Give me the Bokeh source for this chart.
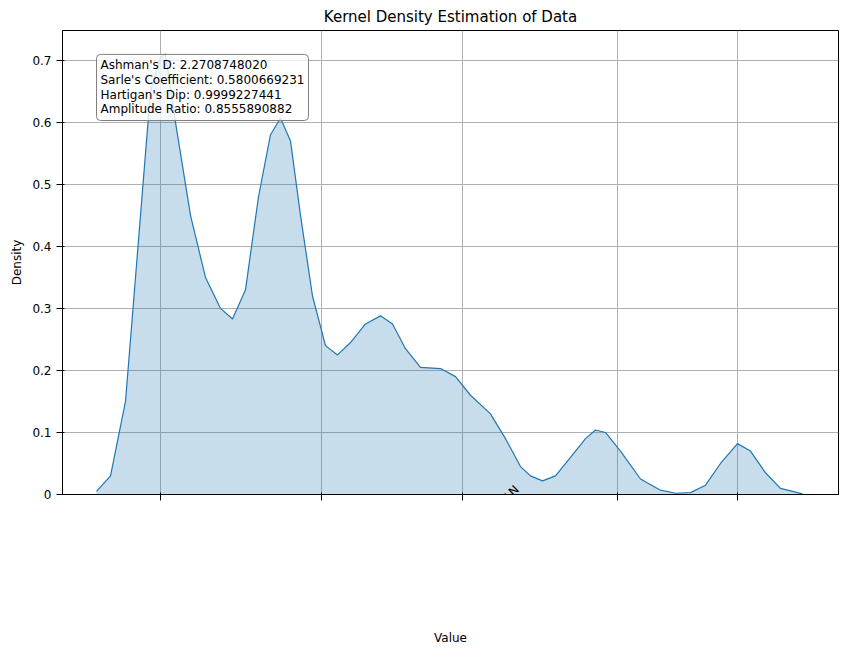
from bokeh.plotting import figure
from bokeh.models import Label, Range1d, FixedTicker
from bokeh.embed import file_html
from bokeh.resources import INLINE

# curve (x in arbitrary units, density)
xs = [0.34, 0.48, 0.63, 0.78, 0.88, 0.98, 1.03, 1.13, 1.28, 1.43, 1.58, 1.70, 1.83, 1.96, 2.08,
      2.18, 2.28, 2.38, 2.50, 2.63, 2.75, 2.88, 3.03, 3.18, 3.30, 3.43, 3.58, 3.78, 3.93, 4.08,
      4.28, 4.43, 4.58, 4.68, 4.80, 4.93, 5.08, 5.23, 5.33, 5.43, 5.58, 5.78, 5.98, 6.13, 6.28,
      6.43, 6.58, 6.75, 6.88, 7.03, 7.18, 7.40]
ys = [0.005, 0.03, 0.15, 0.45, 0.65, 0.705, 0.71, 0.6, 0.45, 0.35, 0.30, 0.283, 0.33, 0.48, 0.58,
      0.607, 0.57, 0.45, 0.32, 0.24, 0.225, 0.245, 0.275, 0.288, 0.275, 0.235, 0.205, 0.203, 0.19, 0.16,
      0.13, 0.09, 0.045, 0.03, 0.022, 0.03, 0.06, 0.09, 0.104, 0.1, 0.07, 0.025, 0.007, 0.002, 0.003,
      0.015, 0.05, 0.082, 0.07, 0.035, 0.01, 0.001]

tick_pos = [0.98, 2.59, 4.00, 5.55, 6.75]
tick_labels = ["BERTA HERNANDEZ", "FRANCISCO HERRERA", "MAGDALENA DE GUZMAN", "KIM ALVARENGA", "AHSHA SAFAI"]

stats = ["Ashman's D: 2.2708748020", "Sarle's Coefficient: 0.5800669231",
         "Hartigan's Dip: 0.9999227441", "Amplitude Ratio: 0.8555890882"]

p = figure(frame_width=776, frame_height=464, min_border_left=62, min_border_top=22,
           min_border_right=8, min_border_bottom=150, output_backend="svg", toolbar_location=None,
           title="Kernel Density Estimation of Data", x_axis_label="Value", y_axis_label="Density")
p.x_range = Range1d(0, 7.76)
p.y_range = Range1d(0, 0.748)
p.title.align = "center"
p.title.text_font_size = "15px"
p.title.text_font_style = "normal"
p.title.text_font = "DejaVu Sans"
p.title.text_color = "black"

p.varea(x=xs, y1=0, y2=ys, fill_color="#1f77b4", fill_alpha=0.25)
p.line(xs, ys, line_color="#1f77b4", line_width=1.2, line_join="round")

p.xaxis.ticker = FixedTicker(ticks=tick_pos)
p.xaxis.major_label_text_font_size = "0px"
p.xaxis.axis_label_standoff = 130
p.yaxis.ticker = FixedTicker(ticks=[0, 0.1, 0.2, 0.3, 0.4, 0.5, 0.6, 0.7])
for ax in (p.xaxis[0], p.yaxis[0]):
    ax.major_label_text_font = "DejaVu Sans"
    ax.axis_label_text_font = "DejaVu Sans"
    ax.axis_label_text_font_size = "12px"
    ax.axis_label_text_font_style = "normal"
    ax.axis_label_text_color = "black"
    ax.minor_tick_line_color = None
    ax.major_label_text_color = "black"
    ax.axis_line_color = "black"
p.yaxis.major_label_text_font_size = "12px"
p.grid.grid_line_color = "#b0b0b0"
p.outline_line_color = "black"

for xp, t in zip(tick_pos, tick_labels):
    p.add_layout(Label(x=xp, y=-0.077, text=t, angle=45, angle_units="deg",
                       text_align="center", text_baseline="middle",
                       text_font="DejaVu Sans", text_font_size="12px", text_color="black"))

lab = Label(x=34, y=374, x_units="screen", y_units="screen", text="\n".join(stats),
            text_font="DejaVu Sans", text_font_size="12px", text_line_height=1.05,
            text_color="black",
            background_fill_color="white", background_fill_alpha=0.8,
            border_line_color="#808080", border_radius=4, padding=4)
p.add_layout(lab)

open("out.html", "w").write(file_html(p, INLINE))
